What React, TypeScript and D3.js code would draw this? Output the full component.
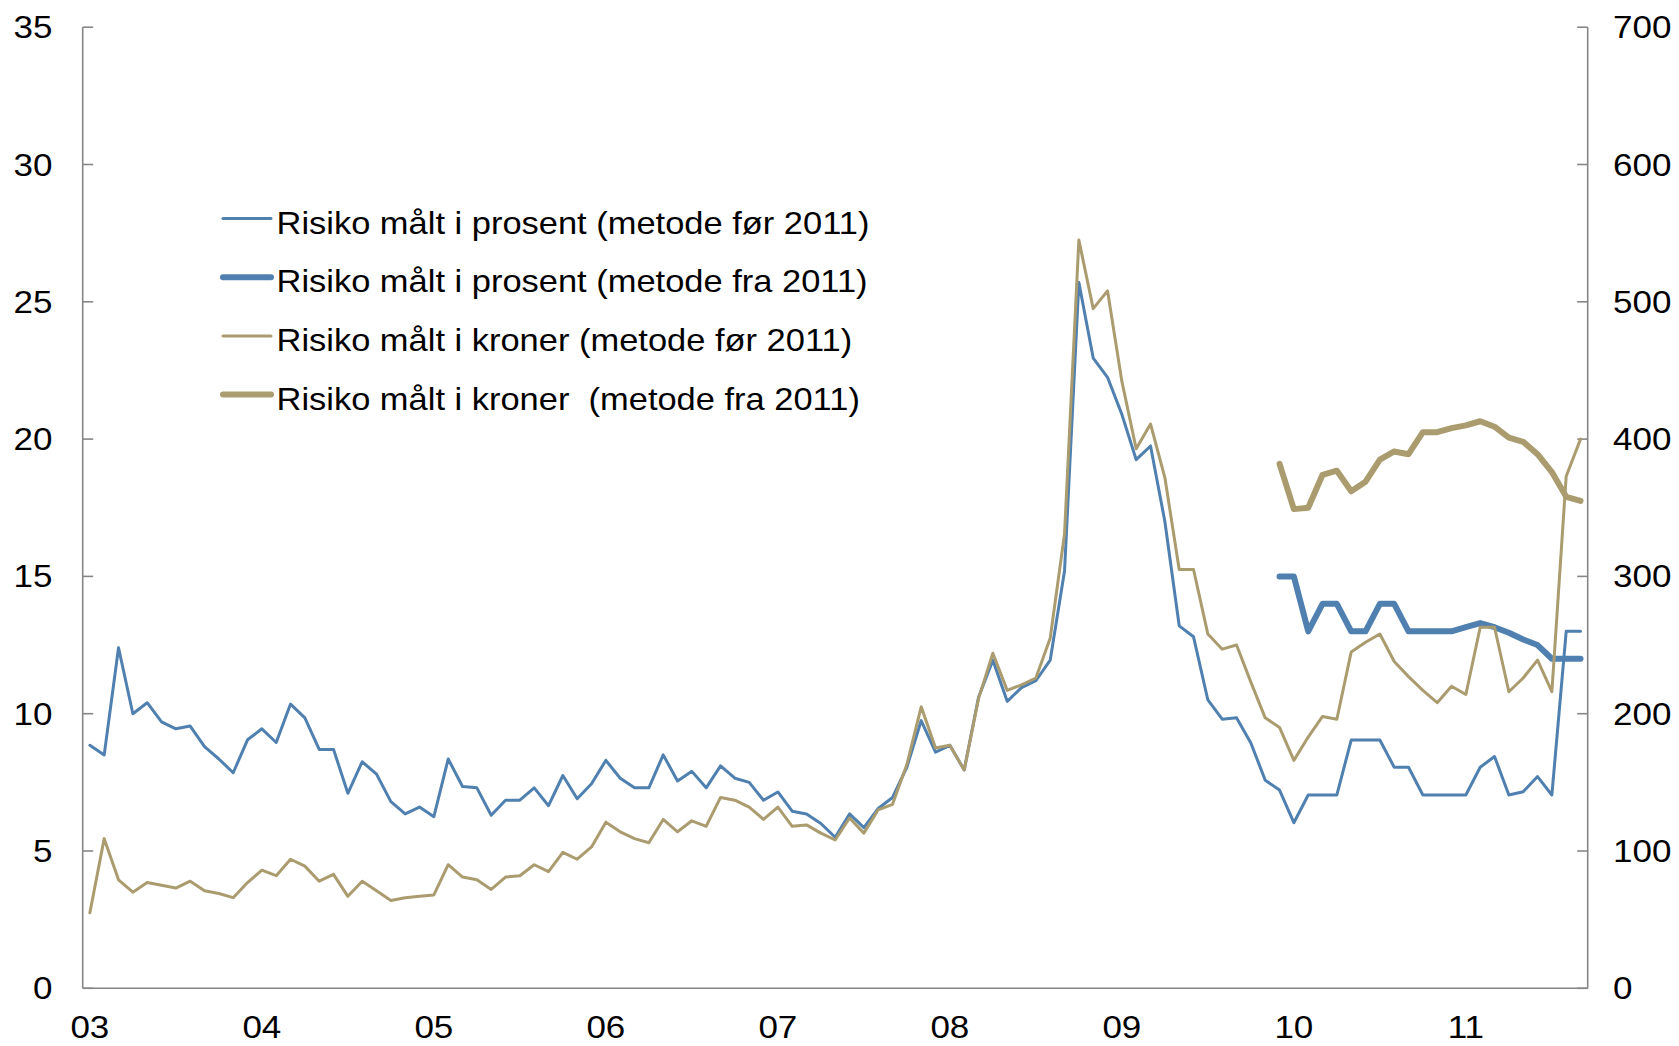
import React from 'react';
import * as d3 from 'd3';

// ---------- data ----------
const yearLabels = ['03', '04', '05', '06', '07', '08', '09', '10', '11'];
const firstYear = 2003;
const monthCount = 105; // Jan 2003 .. Sep 2011

// Risiko målt i prosent (metode før 2011) – left axis, percent
const prosentFor = [
  8.85, 8.5, 12.4, 10.0, 10.4, 9.7, 9.45, 9.55, 8.8, 8.35, 7.85, 9.05,
  9.45, 8.95, 10.35, 9.85, 8.7, 8.7, 7.1, 8.25, 7.8, 6.8, 6.35, 6.6,
  6.25, 8.35, 7.35, 7.3, 6.3, 6.85, 6.85, 7.3, 6.65, 7.75, 6.9, 7.45,
  8.3, 7.65, 7.3, 7.3, 8.5, 7.55, 7.9, 7.3, 8.1, 7.65, 7.5, 6.85,
  7.15, 6.45, 6.35, 6.0, 5.5, 6.35, 5.85, 6.55, 6.95, 8.05, 9.75, 8.6,
  8.85, 7.95, 10.6, 11.95, 10.45, 10.95, 11.2, 11.95, 15.2, 25.7, 22.95, 22.25,
  20.9, 19.25, 19.75, 17.0, 13.2, 12.8, 10.5, 9.8, 9.85, 8.93, 7.58, 7.22,
  6.03, 7.04, 7.04, 7.04, 9.04, 9.04, 9.04, 8.05, 8.05, 7.04, 7.04, 7.04,
  7.04, 8.05, 8.44, 7.04, 7.16, 7.71, 7.04, 13.0, 13.0,
];

// Risiko målt i kroner (metode før 2011) – right axis
const kronerFor = [
  55, 109, 79, 70, 77, 75, 73, 78, 71, 69, 66, 77,
  86, 82, 94, 89, 78, 83, 67, 78, 71, 64, 66, 67,
  68, 90, 81, 79, 72, 81, 82, 90, 85, 99, 94, 103,
  121, 114, 109, 106, 123, 114, 122, 118, 139, 137, 132, 123,
  132, 118, 119, 113, 108, 124, 113, 130, 134, 163, 205, 175,
  177, 159, 211, 244, 217, 221, 226, 255, 331, 545, 495, 508,
  442, 393, 411, 372, 305, 305, 258, 247, 250, 223, 197, 190,
  166, 183, 198, 196, 245, 252, 258, 238, 227, 217, 208, 220,
  214, 263, 263, 216, 226, 239, 216, 373, 400,
];

// New method series start in Dec 2009 (month index 83)
const fraStartIndex = 83;
const prosentFra = [
  15, 15, 13, 14, 14, 13, 13, 14, 14, 13, 13, 13,
  13, 13.15, 13.3, 13.15, 12.95, 12.7, 12.5, 12, 12, 12,
];
const kronerFra = [
  382, 349, 350, 374, 377, 362, 369, 385, 391, 389, 405, 405,
  408, 410, 413, 409, 401, 398, 389, 376, 358, 355,
];

const leftTicks = [0, 5, 10, 15, 20, 25, 30, 35];
const rightTicks = [0, 100, 200, 300, 400, 500, 600, 700];

const legendLabels = [
  'Risiko målt i prosent (metode før 2011)',
  'Risiko målt i prosent (metode fra 2011)',
  'Risiko målt i kroner (metode før 2011)',
  'Risiko målt i kroner  (metode fra 2011)',
];

// ---------- layout / style ----------
const W = 1679;
const H = 1046;
const PLOT = { left: 82.7, right: 1587.7, top: 27.2, bottom: 988.3 };
const BLUE = '#4F80AF';
const TAN = '#AA9C6F';
const AXIS = '#868686';
const FONT = '"Liberation Sans", Arial, Helvetica, sans-serif';
const SX = 1.13; // horizontal stretch of text seen in reference
const TICK_FS = 31;
const LEG_FS = 30.5;

type Pt = { i: number; v: number };

const Stretched: React.FC<{ x: number; y: number; anchor?: string; fs: number; children: React.ReactNode }> = ({ x, y, anchor = 'start', fs, children }) => (
  <g transform={`translate(${x},${y}) scale(${SX},1)`}>
    <text x={0} y={0} textAnchor={anchor as any} fontSize={fs} fontFamily={FONT} fill="#000" style={{ whiteSpace: 'pre' }}>
      {children}
    </text>
  </g>
);

export default function App() {
  const idx = d3.range(monthCount);
  const months = idx.map((i) => {
    const y = firstYear + Math.floor(i / 12);
    const m = (i % 12) + 1;
    return `${y}-${String(m).padStart(2, '0')}`;
  });

  const x = d3
    .scalePoint<string>()
    .domain(months)
    .range([PLOT.left, PLOT.right])
    .padding(0.5);
  const yL = d3.scaleLinear().domain([0, 35]).range([PLOT.bottom, PLOT.top]);
  const yR = d3.scaleLinear().domain([0, 700]).range([PLOT.bottom, PLOT.top]);

  const lineL = d3
    .line<Pt>()
    .x((d) => x(months[d.i]) as number)
    .y((d) => yL(d.v));
  const lineR = d3
    .line<Pt>()
    .x((d) => x(months[d.i]) as number)
    .y((d) => yR(d.v));

  const sPF: Pt[] = prosentFor.map((v, i) => ({ i, v }));
  const sKF: Pt[] = kronerFor.map((v, i) => ({ i, v }));
  const sPN: Pt[] = prosentFra.map((v, k) => ({ i: fraStartIndex + k, v }));
  const sKN: Pt[] = kronerFra.map((v, k) => ({ i: fraStartIndex + k, v }));

  const tickLen = 10.5;

  const legendRows = [218.5, 277.3, 336, 394.5];
  const legendStyles = [
    { c: BLUE, w: 3 },
    { c: BLUE, w: 6 },
    { c: TAN, w: 3 },
    { c: TAN, w: 6 },
  ];

  return (
    <svg
      width={W}
      height={H}
      style={{ position: 'absolute', left: 0, top: 0, background: '#fff' }}
      xmlns="http://www.w3.org/2000/svg"
    >
      <rect x={0} y={0} width={W} height={H} fill="#fff" />

      {/* axes */}
      <line x1={PLOT.left} x2={PLOT.left} y1={PLOT.top} y2={PLOT.bottom} stroke={AXIS} strokeWidth={1.6} />
      <line x1={PLOT.right} x2={PLOT.right} y1={PLOT.top} y2={PLOT.bottom} stroke={AXIS} strokeWidth={1.6} />
      <line x1={PLOT.left} x2={PLOT.right} y1={PLOT.bottom} y2={PLOT.bottom} stroke={AXIS} strokeWidth={1.6} />

      {leftTicks.map((t) => (
        <g key={`l${t}`}>
          <line x1={PLOT.left} x2={PLOT.left + tickLen} y1={yL(t)} y2={yL(t)} stroke={AXIS} strokeWidth={1.6} />
          <Stretched x={52.5} y={yL(t) + TICK_FS * 0.358} anchor="end" fs={TICK_FS}>
            {String(t)}
          </Stretched>
        </g>
      ))}
      {rightTicks.map((t) => (
        <g key={`r${t}`}>
          <line x1={PLOT.right - tickLen} x2={PLOT.right} y1={yR(t)} y2={yR(t)} stroke={AXIS} strokeWidth={1.6} />
          <Stretched x={1613} y={yR(t) + TICK_FS * 0.358} anchor="start" fs={TICK_FS}>
            {String(t)}
          </Stretched>
        </g>
      ))}
      {yearLabels.map((lab, k) => (
        <Stretched key={lab} x={x(months[k * 12]) as number} y={1038} anchor="middle" fs={TICK_FS}>
          {lab}
        </Stretched>
      ))}

      {/* series */}
      <path d={lineL(sPF) || ''} fill="none" stroke={BLUE} strokeWidth={3} strokeLinejoin="round" strokeLinecap="round" />
      <path d={lineL(sPN) || ''} fill="none" stroke={BLUE} strokeWidth={6} strokeLinejoin="round" strokeLinecap="round" />
      <path d={lineR(sKF) || ''} fill="none" stroke={TAN} strokeWidth={3} strokeLinejoin="round" strokeLinecap="round" />
      <path d={lineR(sKN) || ''} fill="none" stroke={TAN} strokeWidth={6} strokeLinejoin="round" strokeLinecap="round" />

      {/* legend */}
      {legendLabels.map((lab, k) => (
        <g key={lab}>
          <line
            x1={223}
            x2={271}
            y1={legendRows[k]}
            y2={legendRows[k]}
            stroke={legendStyles[k].c}
            strokeWidth={legendStyles[k].w}
            strokeLinecap="round"
          />
          <Stretched x={276.5} y={legendRows[k] + 15} anchor="start" fs={LEG_FS}>
            {lab}
          </Stretched>
        </g>
      ))}
    </svg>
  );
}
